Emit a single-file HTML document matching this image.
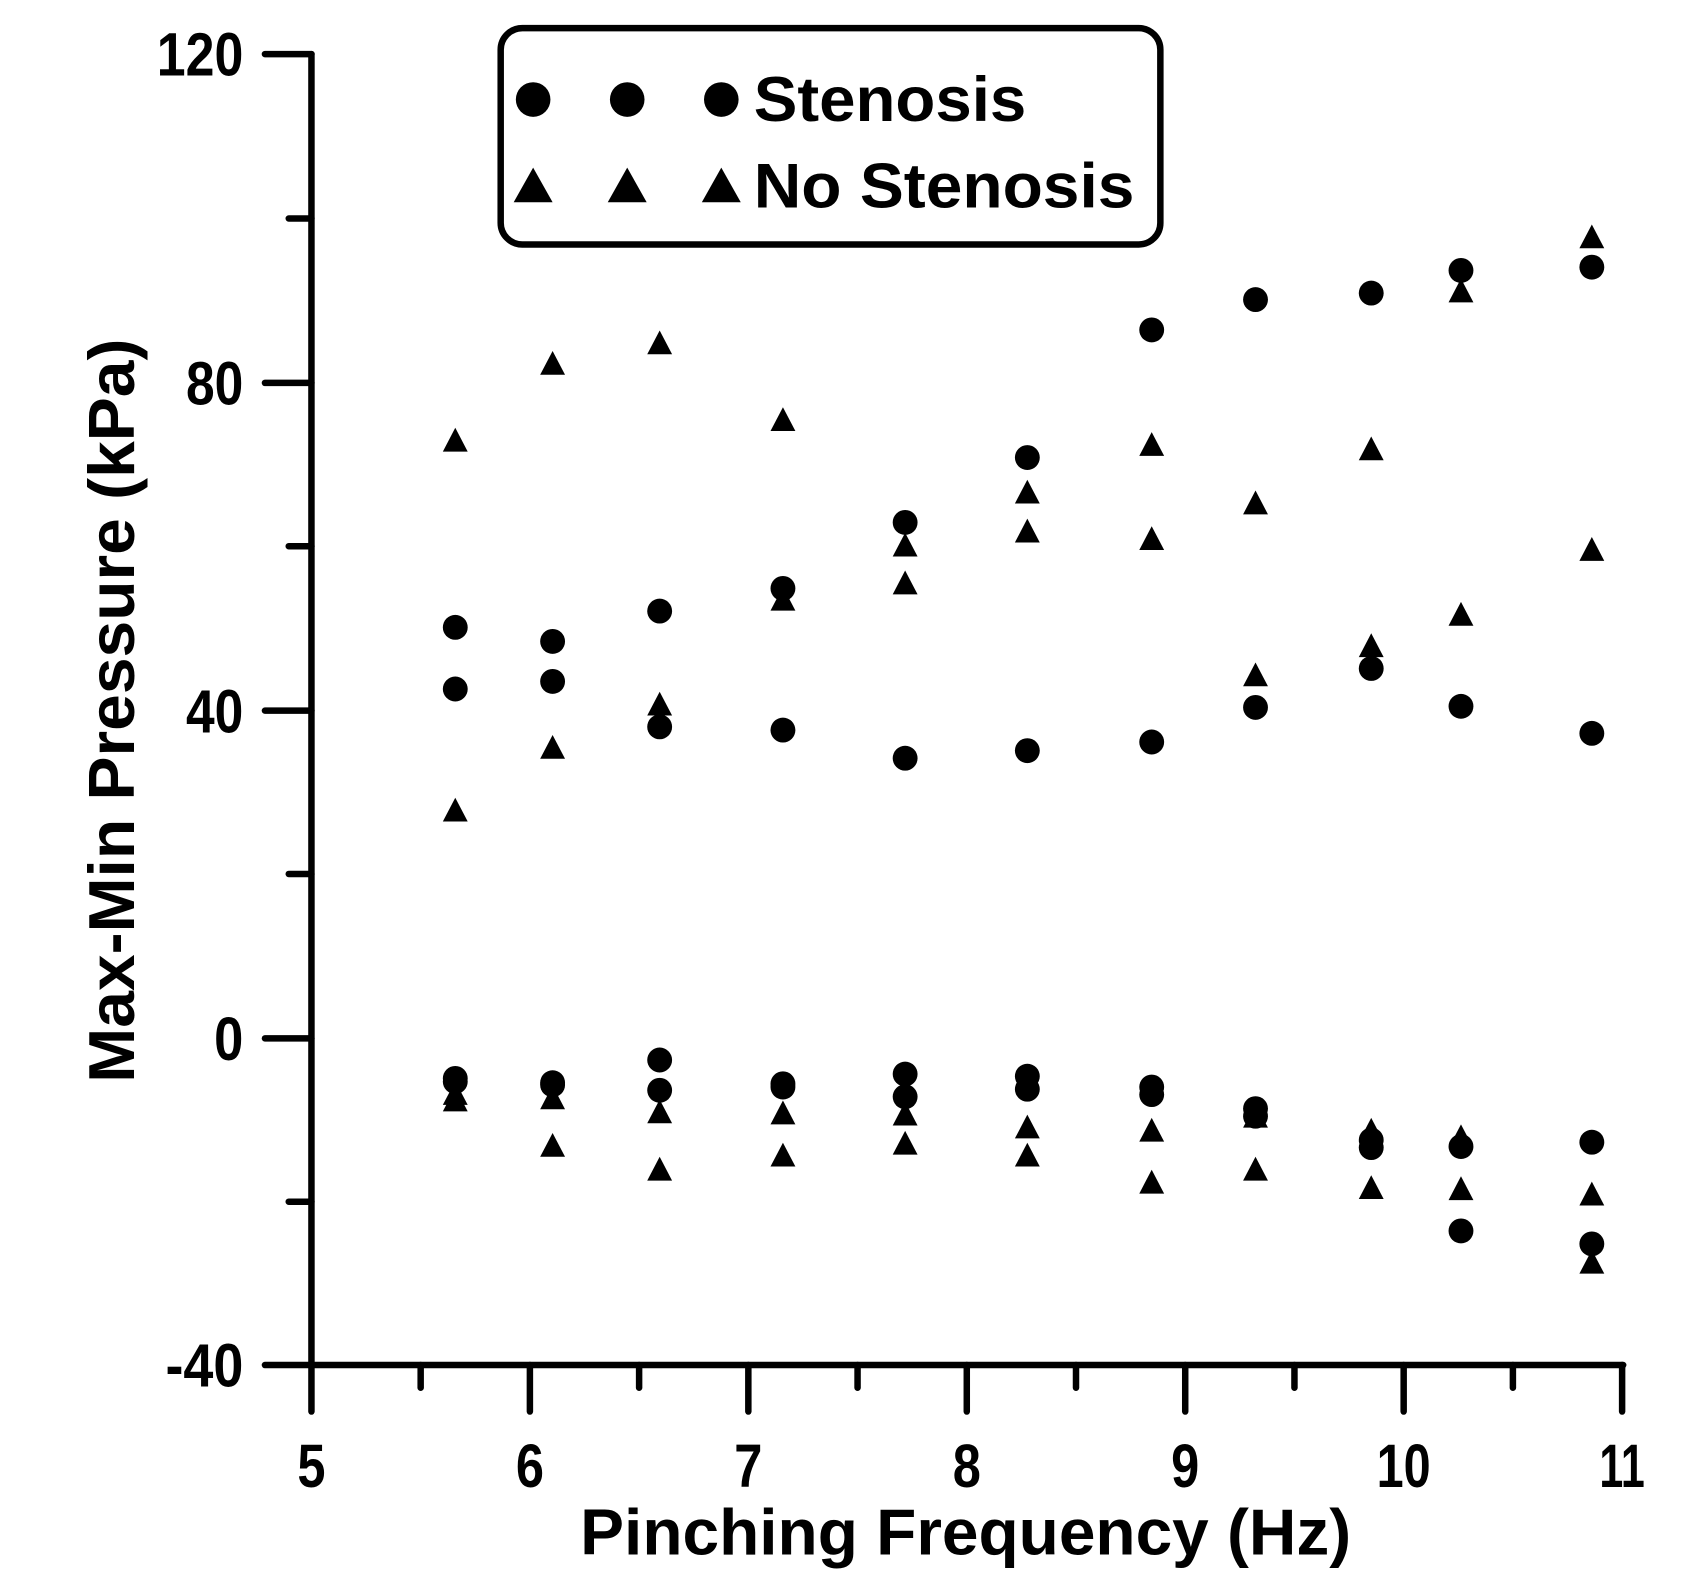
<!DOCTYPE html>
<html><head><style>
html,body{margin:0;padding:0;background:#fff;}
svg{display:block;}
text{font-family:"Liberation Sans",Arial,sans-serif;font-weight:bold;fill:#000;}
</style></head><body>
<svg width="1687" height="1590" viewBox="0 0 1560 1470" preserveAspectRatio="none" xmlns="http://www.w3.org/2000/svg">
<defs>
<circle id="c" r="11.5" fill="#000"/>
<polygon id="t" points="0,-12.5 11.5,9.5 -11.5,9.5" fill="#000"/>
</defs>
<g stroke="#000" stroke-width="6" stroke-linecap="round" fill="none">
<line x1="288" y1="50" x2="288" y2="1305"/>
<line x1="245" y1="1262" x2="1501" y2="1262"/>
<line x1="245" y1="50" x2="288" y2="50"/>
<line x1="245" y1="354" x2="288" y2="354"/>
<line x1="245" y1="657" x2="288" y2="657"/>
<line x1="245" y1="960" x2="288" y2="960"/>
<line x1="267" y1="202" x2="288" y2="202"/>
<line x1="267" y1="505" x2="288" y2="505"/>
<line x1="267" y1="808" x2="288" y2="808"/>
<line x1="267" y1="1111" x2="288" y2="1111"/>
<line x1="490" y1="1262" x2="490" y2="1305"/>
<line x1="692" y1="1262" x2="692" y2="1305"/>
<line x1="894" y1="1262" x2="894" y2="1305"/>
<line x1="1096" y1="1262" x2="1096" y2="1305"/>
<line x1="1298" y1="1262" x2="1298" y2="1305"/>
<line x1="1500" y1="1262" x2="1500" y2="1305"/>
<line x1="389" y1="1262" x2="389" y2="1283"/>
<line x1="591" y1="1262" x2="591" y2="1283"/>
<line x1="793" y1="1262" x2="793" y2="1283"/>
<line x1="995" y1="1262" x2="995" y2="1283"/>
<line x1="1197" y1="1262" x2="1197" y2="1283"/>
<line x1="1399" y1="1262" x2="1399" y2="1283"/>
<rect x="463" y="26" width="610" height="200" rx="20" ry="20"/>
</g>
<g font-size="57" text-anchor="end">
<text x="225" y="70" textLength="80" lengthAdjust="spacingAndGlyphs">120</text>
<text x="225" y="374" textLength="53" lengthAdjust="spacingAndGlyphs">80</text>
<text x="225" y="677" textLength="53" lengthAdjust="spacingAndGlyphs">40</text>
<text x="225" y="980" textLength="27" lengthAdjust="spacingAndGlyphs">0</text>
<text x="225" y="1282" textLength="72" lengthAdjust="spacingAndGlyphs">-40</text>
</g>
<g font-size="57" text-anchor="middle">
<text x="288" y="1375" textLength="26" lengthAdjust="spacingAndGlyphs">5</text>
<text x="490" y="1375" textLength="26" lengthAdjust="spacingAndGlyphs">6</text>
<text x="692" y="1375" textLength="26" lengthAdjust="spacingAndGlyphs">7</text>
<text x="894" y="1375" textLength="26" lengthAdjust="spacingAndGlyphs">8</text>
<text x="1096" y="1375" textLength="26" lengthAdjust="spacingAndGlyphs">9</text>
<text x="1298" y="1375" textLength="50" lengthAdjust="spacingAndGlyphs">10</text>
<text x="1500" y="1375" textLength="42" lengthAdjust="spacingAndGlyphs">11</text>
</g>
<text x="893" y="1437" font-size="60" text-anchor="middle" textLength="713" lengthAdjust="spacingAndGlyphs">Pinching Frequency (Hz)</text>
<text transform="translate(124,657) rotate(-90)" font-size="60" text-anchor="middle" textLength="688" lengthAdjust="spacingAndGlyphs">Max-Min Pressure (kPa)</text>
<circle cx="493" cy="92" r="16"/><circle cx="580" cy="92" r="16"/><circle cx="667" cy="92" r="16"/>
<polygon points="493,155 511,187 475,187"/><polygon points="580,155 598,187 562,187"/><polygon points="667,155 685,187 649,187"/>
<text x="697" y="112" font-size="58" textLength="252" lengthAdjust="spacingAndGlyphs">Stenosis</text>
<text x="697" y="192" font-size="58" textLength="352" lengthAdjust="spacingAndGlyphs">No Stenosis</text>
<g>
<use href="#c" x="421" y="580"/><use href="#c" x="421" y="637"/><use href="#c" x="421" y="997"/><use href="#c" x="421" y="1000"/>
<use href="#c" x="511" y="593"/><use href="#c" x="511" y="630"/><use href="#c" x="511" y="1001"/><use href="#c" x="511" y="1003"/>
<use href="#c" x="610" y="565"/><use href="#c" x="610" y="672"/><use href="#c" x="610" y="980"/><use href="#c" x="610" y="1008"/>
<use href="#c" x="724" y="544"/><use href="#c" x="724" y="675"/><use href="#c" x="724" y="1002"/><use href="#c" x="724" y="1005"/>
<use href="#c" x="837" y="483"/><use href="#c" x="837" y="701"/><use href="#c" x="837" y="993"/><use href="#c" x="837" y="1014"/>
<use href="#c" x="950" y="423"/><use href="#c" x="950" y="694"/><use href="#c" x="950" y="995"/><use href="#c" x="950" y="1007"/>
<use href="#c" x="1065" y="305"/><use href="#c" x="1065" y="686"/><use href="#c" x="1065" y="1005"/><use href="#c" x="1065" y="1012"/>
<use href="#c" x="1161" y="277"/><use href="#c" x="1161" y="654"/><use href="#c" x="1161" y="1025"/><use href="#c" x="1161" y="1032"/>
<use href="#c" x="1268" y="271"/><use href="#c" x="1268" y="618"/><use href="#c" x="1268" y="1054"/><use href="#c" x="1268" y="1061"/>
<use href="#c" x="1351" y="250"/><use href="#c" x="1351" y="653"/><use href="#c" x="1351" y="1060"/><use href="#c" x="1351" y="1138"/>
<use href="#c" x="1472" y="247"/><use href="#c" x="1472" y="678"/><use href="#c" x="1472" y="1056"/><use href="#c" x="1472" y="1150"/>
<use href="#t" x="421" y="408"/><use href="#t" x="421" y="750"/><use href="#t" x="421" y="1012"/><use href="#t" x="421" y="1018"/>
<use href="#t" x="511" y="337"/><use href="#t" x="511" y="692"/><use href="#t" x="511" y="1016"/><use href="#t" x="511" y="1060"/>
<use href="#t" x="610" y="318"/><use href="#t" x="610" y="652"/><use href="#t" x="610" y="1029"/><use href="#t" x="610" y="1082"/>
<use href="#t" x="724" y="389"/><use href="#t" x="724" y="555"/><use href="#t" x="724" y="1030"/><use href="#t" x="724" y="1069"/>
<use href="#t" x="837" y="505"/><use href="#t" x="837" y="540"/><use href="#t" x="837" y="1031"/><use href="#t" x="837" y="1058"/>
<use href="#t" x="950" y="456"/><use href="#t" x="950" y="492"/><use href="#t" x="950" y="1043"/><use href="#t" x="950" y="1069"/>
<use href="#t" x="1065" y="412"/><use href="#t" x="1065" y="499"/><use href="#t" x="1065" y="1046"/><use href="#t" x="1065" y="1094"/>
<use href="#t" x="1161" y="466"/><use href="#t" x="1161" y="625"/><use href="#t" x="1161" y="1033"/><use href="#t" x="1161" y="1082"/>
<use href="#t" x="1268" y="416"/><use href="#t" x="1268" y="598"/><use href="#t" x="1268" y="1046"/><use href="#t" x="1268" y="1099"/>
<use href="#t" x="1351" y="270"/><use href="#t" x="1351" y="569"/><use href="#t" x="1351" y="1052"/><use href="#t" x="1351" y="1100"/>
<use href="#t" x="1472" y="220"/><use href="#t" x="1472" y="509"/><use href="#t" x="1472" y="1105"/><use href="#t" x="1472" y="1168"/>
</g>
</svg>
</body></html>
